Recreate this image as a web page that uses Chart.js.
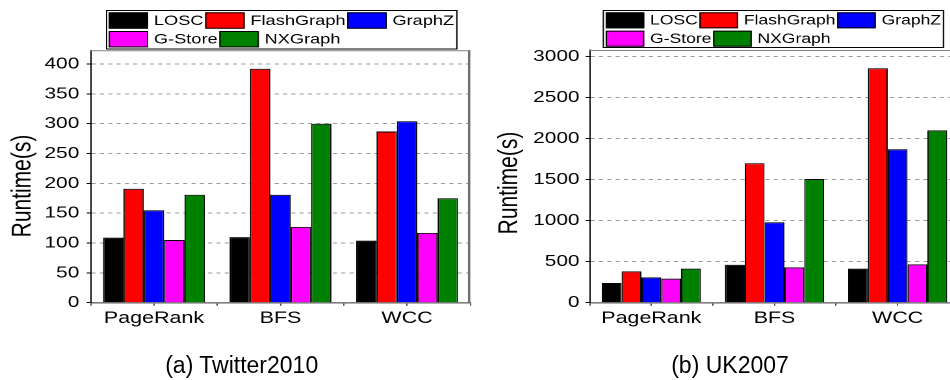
<!DOCTYPE html>
<html>
<head>
<meta charset="utf-8">
<script src="https://cdn.jsdelivr.net/npm/chart.js@4.4.1/dist/chart.umd.min.js"></script>
<style>
  html, body { margin: 0; padding: 0; background: #fff; width: 950px; height: 380px; overflow: hidden; }
  .panel { position: absolute; top: 0; height: 380px; transform: scaleX(1.3); transform-origin: 0 0; }
  .caption { position: absolute; width: 220px; text-align: center; font: 23px/23px "Liberation Sans", Arial, sans-serif; color: #000; top: 354px; }
</style>
</head>
<body>
<div class="panel" style="left:0;width:365px"><canvas id="tw" width="365" height="380"></canvas></div>
<div class="panel" style="left:475px;width:376px"><canvas id="uk" width="376" height="380"></canvas></div>
<div class="caption" style="left:131.7px">(a) Twitter2010</div>
<div class="caption" style="left:620px">(b) UK2007</div>
<script>
// Workloads on the x axis
const categories = ['PageRank', 'BFS', 'WCC'];
// Systems compared
const systems = ['LOSC', 'FlashGraph', 'GraphZ', 'G-Store', 'NXGraph'];
const systemColors = ['#000000', '#ff0000', '#0000ff', '#ff00ff', '#008000'];

// Runtime in seconds, Twitter2010
const loscTw   = [109, 110, 104];
const flashTw  = [191, 392, 287];
const graphzTw = [155, 181, 304];
const gstoreTw = [105, 127, 117];
const nxTw     = [181, 300, 175];

// Runtime in seconds, UK2007
const loscUk   = [240, 463, 415];
const flashUk  = [382, 1700, 2858];
const graphzUk = [309, 980, 1870];
const gstoreUk = [293, 431, 467];
const nxUk     = [415, 1508, 2100];

// y axis ranges and labelled tick step (minor ticks at half step)
const twAxisMax = 423, twLabelStep = 50;
const ukAxisMax = 3080, ukLabelStep = 500;

const FONT = '"Liberation Sans", Arial, sans-serif';
Chart.defaults.font.family = FONT;
Chart.defaults.color = '#000';

// Gray frame along the top and right of the plot area
const plotFrame = {
  id: 'plotFrame',
  afterDatasetsDraw(chart) {
    const { ctx, chartArea: a } = chart;
    ctx.save();
    ctx.strokeStyle = '#808080';
    ctx.lineWidth = 1;
    ctx.beginPath();
    ctx.moveTo(a.left, a.top + 0.5);
    ctx.lineTo(a.right, a.top + 0.5);
    ctx.stroke();
    ctx.strokeStyle = '#707070';
    ctx.lineWidth = 1.8;
    ctx.beginPath();
    ctx.moveTo(a.right - 0.9, a.top);
    ctx.lineTo(a.right - 0.9, a.bottom);
    ctx.stroke();
    ctx.restore();
  }
};

// Rotated y-axis caption
const sideTitle = {
  id: 'sideTitle',
  afterDraw(chart, args, o) {
    const ctx = chart.ctx;
    ctx.save();
    ctx.translate(o.x, o.y);
    ctx.rotate(-Math.PI / 2);
    ctx.font = o.size + 'px ' + FONT;
    ctx.fillStyle = '#000';
    ctx.textAlign = 'center';
    ctx.textBaseline = 'middle';
    ctx.fillText(o.text, 0, 0);
    ctx.restore();
  }
};

// Boxed legend, fixed number of entries per row
const boxLegend = {
  id: 'boxLegend',
  afterDraw(chart, args, o) {
    const ctx = chart.ctx;
    const sets = chart.data.datasets;
    ctx.save();
    ctx.font = o.size + 'px ' + FONT;
    const rows = [];
    for (let i = 0; i < sets.length; i += o.perRow) rows.push(sets.slice(i, i + o.perRow));
    let maxW = 0;
    rows.forEach(r => {
      let w = 0;
      r.forEach((d, j) => {
        w += o.boxW + o.gap + ctx.measureText(d.label).width + (j < r.length - 1 ? o.after : 0);
      });
      maxW = Math.max(maxW, w);
    });
    const bw = maxW + o.padL + o.padR;
    ctx.fillStyle = '#fff';
    ctx.fillRect(o.x, o.y, bw, o.h);
    ctx.strokeStyle = '#000';
    ctx.lineWidth = 1;
    ctx.strokeRect(o.x + 0.5, o.y + 0.5, bw - 1, o.h - 1);
    rows.forEach((r, ri) => {
      let x = o.x + o.padL;
      const y = o.y + o.padT + ri * o.rowH;
      r.forEach(d => {
        ctx.fillStyle = d.backgroundColor;
        ctx.fillRect(x, y, o.boxW, o.boxH);
        ctx.strokeStyle = '#000';
        ctx.strokeRect(x + 0.5, y + 0.5, o.boxW - 1, o.boxH - 1);
        x += o.boxW + o.gap;
        ctx.fillStyle = '#000';
        ctx.textAlign = 'left';
        ctx.textBaseline = 'middle';
        ctx.fillText(d.label, x, y + o.boxH / 2 + 0.5);
        x += ctx.measureText(d.label).width + o.after;
      });
    });
    ctx.restore();
  }
};

function makeChart(id, series, axisMax, labelStep, geo) {
  const datasets = series.map((vals, i) => ({
    label: systems[i],
    data: vals,
    backgroundColor: systemColors[i],
    borderColor: '#000',
    borderWidth: 1,
    categoryPercentage: 0.805,
    barPercentage: 1.0
  }));
  return new Chart(document.getElementById(id), {
    type: 'bar',
    data: { labels: categories, datasets },
    plugins: [plotFrame, sideTitle, boxLegend],
    options: {
      responsive: false,
      devicePixelRatio: 2,
      animation: false,
      events: [],
      layout: { padding: { top: geo.top, right: geo.padRight, left: 0, bottom: 0 } },
      scales: {
        x: {
          type: 'category',
          position: 'bottom',
          offset: true,
          grid: { offset: false, drawOnChartArea: false, tickLength: 3, tickColor: '#444', tickWidth: 1 },
          border: { color: '#7f7f7f', width: 1.6 },
          ticks: { font: { size: 16.5 }, padding: 3, color: '#000', maxRotation: 0 },
          afterFit: s => { s.height = 380 - geo.bottom; }
        },
        x2: {
          type: 'category',
          position: 'bottom',
          weight: -1,
          offset: true,
          grid: { offset: true, drawOnChartArea: false, tickLength: 3, tickColor: '#444', tickWidth: 1 },
          border: { display: false },
          ticks: { display: false },
          afterFit: s => { s.height = 0; }
        },
        y: {
          min: 0,
          max: axisMax,
          grid: {
            color: c => (c.tick && c.tick.value > 0 && c.tick.value % labelStep === 0) ? '#9a9a9a' : 'rgba(0,0,0,0)',
            lineWidth: 1,
            tickColor: '#000',
            tickLength: 3.1,
            tickWidth: 1
          },
          border: { color: '#000', width: 1, dash: [3.1, 3.3] },
          ticks: {
            stepSize: labelStep / 2,
            includeBounds: false,
            font: { size: 16 },
            padding: geo.tickPad,
            color: '#000',
            callback: v => (v % labelStep === 0 ? String(v) : '')
          },
          afterFit: s => { s.width = geo.left; }
        }
      },
      plugins: {
        legend: { display: false },
        tooltip: { enabled: false },
        sideTitle: { text: 'Runtime(s)', size: 21, x: geo.titleX, y: geo.titleY },
        boxLegend: geo.legend
      }
    }
  });
}

makeChart('tw', [loscTw, flashTw, graphzTw, gstoreTw, nxTw], twAxisMax, twLabelStep, {
  top: 50.3, bottom: 302.7, left: 69.77, padRight: 3.23, tickPad: 5.7,
  titleX: 17.7, titleY: 186,
  legend: { x: 81.5, y: 10, h: 39.5, padL: 2.1, padR: 2.6, padT: 2.3, rowH: 18.7,
            boxW: 30.4, boxH: 16.4, gap: 4.4, after: 1.3, size: 14, perRow: 3 }
});

makeChart('uk', [loscUk, flashUk, graphzUk, gstoreUk, nxUk], ukAxisMax, ukLabelStep, {
  top: 50, bottom: 302.7, left: 88.27, padRight: 3.54, tickPad: 4.8,
  titleX: 26.9, titleY: 183,
  legend: { x: 98.2, y: 10, h: 38, padL: 2.3, padR: 2.4, padT: 2.3, rowH: 18.4,
            boxW: 29.7, boxH: 16, gap: 4.4, after: 1.3, size: 13.5, perRow: 3 }
});
</script>
</body>
</html>
